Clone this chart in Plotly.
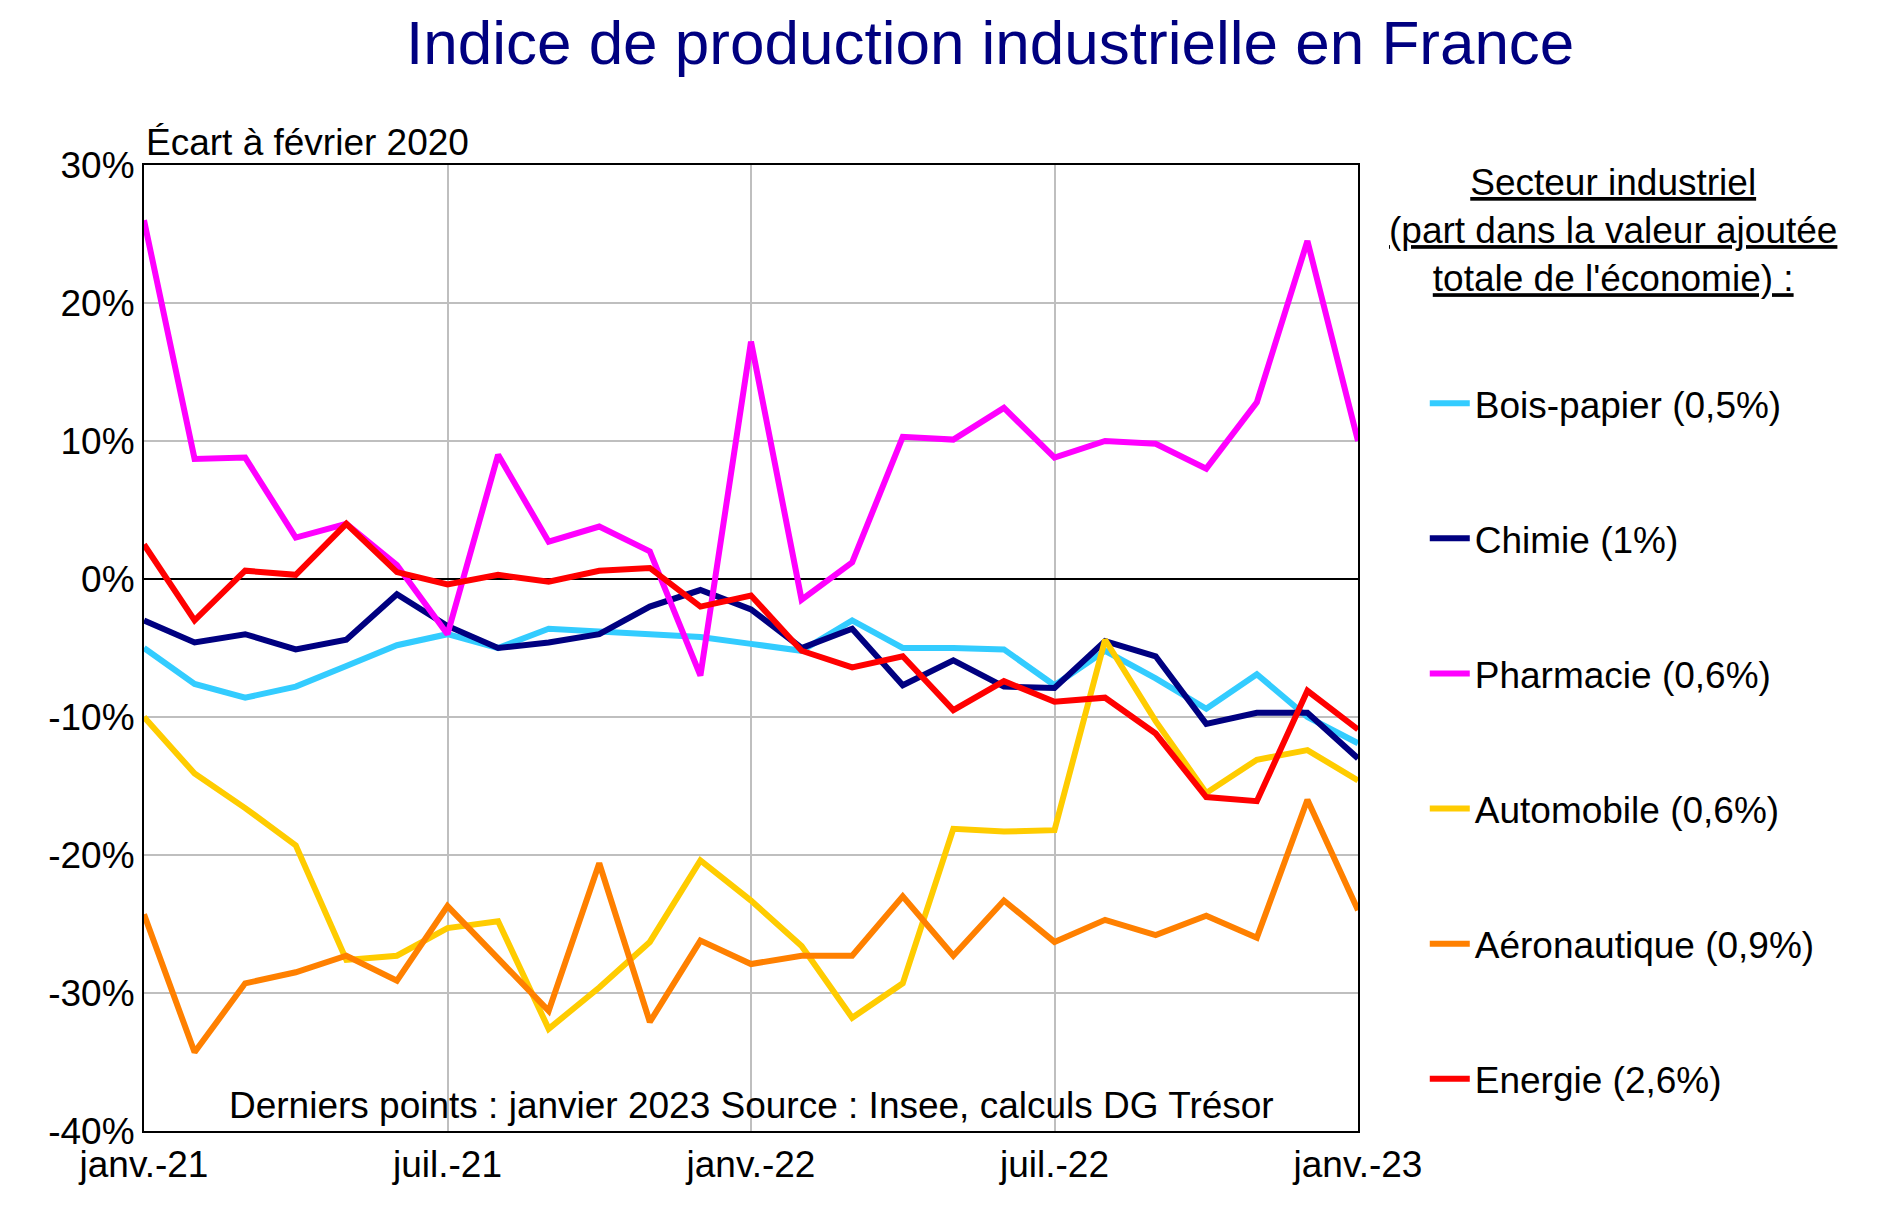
import plotly.graph_objects as go

months = list(range(25))
tick_vals = [0, 6, 12, 18, 24]
tick_text = ["janv.-21", "juil.-21", "janv.-22", "juil.-22", "janv.-23"]
y_vals = [-40, -30, -20, -10, 0, 10, 20, 30]
y_text = ["-40%", "-30%", "-20%", "-10%", "0%", "10%", "20%", "30%"]

bois = [-5, -7.6, -8.6, -7.8, -6.3, -4.8, -4, -5, -3.6, -3.8, -4.1, -4.2, -4.7, -5.2, -3, -5, -5, -5.1, -7.7, -5.2, -7.2, -9.4, -6.9, -10, -11.9]
chimie = [-3, -4.6, -4, -5.1, -4.4, -1.1, -3.4, -5, -4.6, -4, -2, -0.8, -2.2, -5, -3.6, -7.7, -5.9, -7.8, -7.9, -4.5, -5.6, -10.5, -9.7, -9.7, -13]
pharma = [26, 8.7, 8.8, 3, 4, 1, -4, 9, 2.7, 3.8, 2, -7, 17.2, -1.5, 1.2, 10.3, 10.1, 12.4, 8.8, 10, 9.8, 8, 12.8, 24.5, 10]
auto = [-10, -14.1, -16.6, -19.3, -27.6, -27.3, -25.3, -24.8, -32.6, -29.6, -26.3, -20.4, -23.3, -26.6, -31.8, -29.3, -18.1, -18.3, -18.2, -4.4, -10.3, -15.5, -13.1, -12.4, -14.6]
aero = [-24.3, -34.3, -29.3, -28.5, -27.3, -29.1, -23.7, -27.5, -31.3, -20.6, -32.1, -26.2, -27.9, -27.3, -27.3, -23, -27.3, -23.3, -26.3, -24.7, -25.8, -24.4, -26, -16, -24]
energie = [2.5, -3, 0.6, 0.3, 4, 0.5, -0.4, 0.3, -0.2, 0.6, 0.8, -2, -1.2, -5.2, -6.4, -5.6, -9.5, -7.4, -8.9, -8.6, -11.2, -15.8, -16.1, -8.1, -10.9]

series = [
    ("Bois-papier (0,5%)", bois, "#33CCFF"),
    ("Chimie (1%)", chimie, "#000080"),
    ("Pharmacie (0,6%)", pharma, "#FF00FF"),
    ("Automobile (0,6%)", auto, "#FFCC00"),
    ("Aéronautique (0,9%)", aero, "#FF8000"),
    ("Energie (2,6%)", energie, "#FF0000"),
]

fig = go.Figure()
for name, vals, col in series:
    fig.add_trace(go.Scatter(x=months, y=vals, mode="lines", name=name, legendgroup=name,
                             line=dict(color=col, width=6)))

font = "Liberation Sans, Arial, sans-serif"
fig.update_layout(
    width=1880, height=1227, paper_bgcolor="white", plot_bgcolor="white",
    margin=dict(l=136, r=530, t=157, b=104),
    font=dict(family=font, size=37, color="black"),
    title=dict(text="Indice de production industrielle en France", xref="paper", x=0.697,
               xanchor="center", y=0.99, yanchor="top", font=dict(size=62, color="#000080")),
    showlegend=True,
    legend=dict(x=1.055, y=0.785, xanchor="left", yanchor="top", tracegroupgap=84,
                font=dict(size=37), itemwidth=40, bgcolor="rgba(0,0,0,0)"),
    xaxis=dict(range=[0, 24], tickvals=tick_vals, ticktext=tick_text, showgrid=True,
               gridcolor="#BFBFBF", gridwidth=2, showline=True, linecolor="black", linewidth=2,
               mirror=True, ticks="", zeroline=False, tickfont=dict(size=37)),
    yaxis=dict(range=[-40, 30], tickvals=y_vals, ticktext=y_text, showgrid=True, gridcolor="#BFBFBF",
               gridwidth=2, showline=True, linecolor="black", linewidth=2, mirror=True,
               zeroline=True, zerolinecolor="black", zerolinewidth=2, tickfont=dict(size=37)),
    annotations=[
        dict(text="Écart à février 2020", xref="paper", yref="paper", x=0, y=1.0, xanchor="left",
             yanchor="bottom", showarrow=False, font=dict(size=37)),
        dict(text="Derniers points : janvier 2023 Source : Insee, calculs DG Trésor", xref="paper",
             yref="paper", x=0.5, y=0.003, xanchor="center", yanchor="bottom", showarrow=False,
             font=dict(size=37)),
        dict(text="<u>Secteur industriel</u><br><u>(part dans la valeur ajoutée</u><br><u>totale de l'économie) :</u>",
             xref="paper", yref="paper", x=1.21, y=1.005, xanchor="center", yanchor="top",
             showarrow=False, font=dict(size=37), align="center"),
    ],
)
fig.write_html("out.html")
